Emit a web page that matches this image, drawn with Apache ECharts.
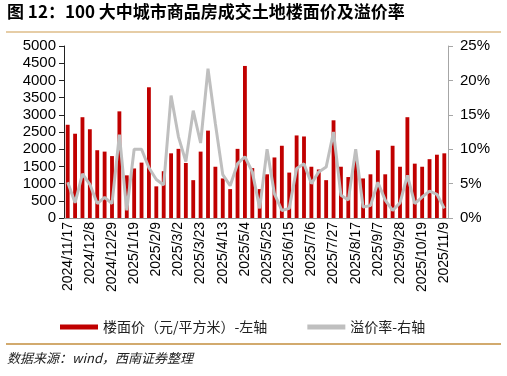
<!DOCTYPE html>
<html>
<head>
<meta charset="utf-8">
<script src="https://cdn.jsdelivr.net/npm/echarts@6/dist/echarts.min.js"></script>
<style>
html, body { margin: 0; padding: 0; background: #fff; }
#chart { width: 507px; height: 376px; }
</style>
</head>
<body>
<div id="chart"></div>
<script>
// weekly dates
const weeks = ['2024/11/17','2024/11/24','2024/12/1','2024/12/8','2024/12/15','2024/12/22','2024/12/29',
    '2025/1/5','2025/1/12','2025/1/19','2025/1/26','2025/2/2','2025/2/9','2025/2/16','2025/2/23',
    '2025/3/2','2025/3/9','2025/3/16','2025/3/23','2025/3/30','2025/4/6','2025/4/13','2025/4/20','2025/4/27',
    '2025/5/4','2025/5/11','2025/5/18','2025/5/25','2025/6/1','2025/6/8','2025/6/15','2025/6/22','2025/6/29',
    '2025/7/6','2025/7/13','2025/7/20','2025/7/27','2025/8/3','2025/8/10','2025/8/17','2025/8/24','2025/8/31',
    '2025/9/7','2025/9/14','2025/9/21','2025/9/28','2025/10/5','2025/10/12','2025/10/19','2025/10/26',
    '2025/11/2','2025/11/9'];

// 楼面价 (元/平方米), left axis
const floorPrice = [2710, 2450, 2930, 2580, 1970, 1930, 1800, 3100, 1240, 1440, 1610, 3800, 920,
    1360, 1880, 2010, 1600, 1100, 1930, 2540, 1490, 1150, 840, 2010, 4420, 1450, 840, 1270, 1760,
    2100, 1320, 2400, 2370, 1490, 1410, 1100, 2840, 1490, 1190, 1700, 1150, 1270, 1970, 1270, 2100,
    1490, 2930, 1580, 1490, 1710, 1840, 1880];

// 溢价率 (%), right axis
const premiumRate = [5.2, 2.2, 6.4, 4.9, 2.1, 3.0, 2.1, 12.1, 1.1, 10.0, 10.0, 7.3, 5.6, 4.8, 17.8,
    11.8, 8.2, 15.6, 10.9, 21.7, 13.7, 6.3, 4.7, 7.9, 8.9, 6.7, 1.4, 10.0, 3.5, 1.1, 1.4, 7.2, 7.9,
    5.0, 6.7, 7.4, 12.5, 3.3, 2.6, 10.0, 1.6, 1.8, 5.2, 2.6, 1.1, 2.2, 6.2, 2.1, 3.05, 3.9, 3.45, 1.4];

const barName = '楼面价（元/平方米）-左轴';
const lineName = '溢价率-右轴';
const fontFam = "'Liberation Sans', 'Noto Sans CJK SC', sans-serif";

var myChart = echarts.init(document.getElementById('chart'));

let option = {
    animation: false,
    textStyle: { fontFamily: fontFam },
    graphic: [
        { type: 'text', left: 7, top: 3,
          style: { text: '图 12：100 大中城市商品房成交土地楼面价及溢价率', font: "bold 17px 'Noto Sans CJK SC', sans-serif", fill: '#000' } },
        { type: 'rect', shape: { x: 6, y: 31, width: 495, height: 2 }, style: { fill: '#e6cda6' } },
        { type: 'rect', shape: { x: 6, y: 343, width: 495, height: 2 }, style: { fill: '#d2aa6e' } },
        { type: 'text', left: 7, top: 352,
          style: { text: '数据来源：wind，西南证券整理', font: "italic 13px 'Noto Sans CJK SC', sans-serif", fill: '#222' } }
    ],
    legend: {
        left: 55, top: 315,
        icon: 'rect',
        itemWidth: 38, itemHeight: 5,
        itemGap: 40,
        textStyle: { fontSize: 14, color: '#222', fontFamily: "'Noto Sans CJK SC', sans-serif" },
        data: [barName, lineName]
    },
    grid: { left: 64, right: 59, top: 46, bottom: 158 },
    xAxis: {
        type: 'category',
        data: weeks,
        boundaryGap: true,
        axisLine: { lineStyle: { color: '#999', width: 1 } },
        axisTick: { interval: 4, length: 4, lineStyle: { color: '#999' } },
        axisLabel: { interval: 2, rotate: 90, fontSize: 14, color: '#000', margin: 4 }
    },
    yAxis: [
        {
            type: 'value', min: 0, max: 5000, interval: 500,
            splitLine: { show: false },
            axisLine: { show: true, lineStyle: { color: '#222' } },
            axisTick: { show: true, length: 5, lineStyle: { color: '#222' } },
            axisLabel: { fontSize: 15, color: '#000', margin: 8, formatter: (v) => String(v) }
        },
        {
            type: 'value', min: 0, max: 25, interval: 5,
            splitLine: { show: false },
            axisLine: { show: true, lineStyle: { color: '#a6a6a6' } },
            axisTick: { show: true, length: 5, lineStyle: { color: '#a6a6a6' } },
            axisLabel: { fontSize: 15, color: '#000', margin: 12, formatter: '{value}%' }
        }
    ],
    series: [
        {
            name: barName, type: 'bar', yAxisIndex: 0,
            data: floorPrice,
            barWidth: '52%',
            itemStyle: { color: '#c00000' }
        },
        {
            name: lineName, type: 'line', yAxisIndex: 1,
            data: premiumRate,
            symbol: 'none',
            lineStyle: { color: '#bfbfbf', width: 3 },
            itemStyle: { color: '#bfbfbf' }
        }
    ]
};

option && myChart.setOption(option);
</script>
</body>
</html>
